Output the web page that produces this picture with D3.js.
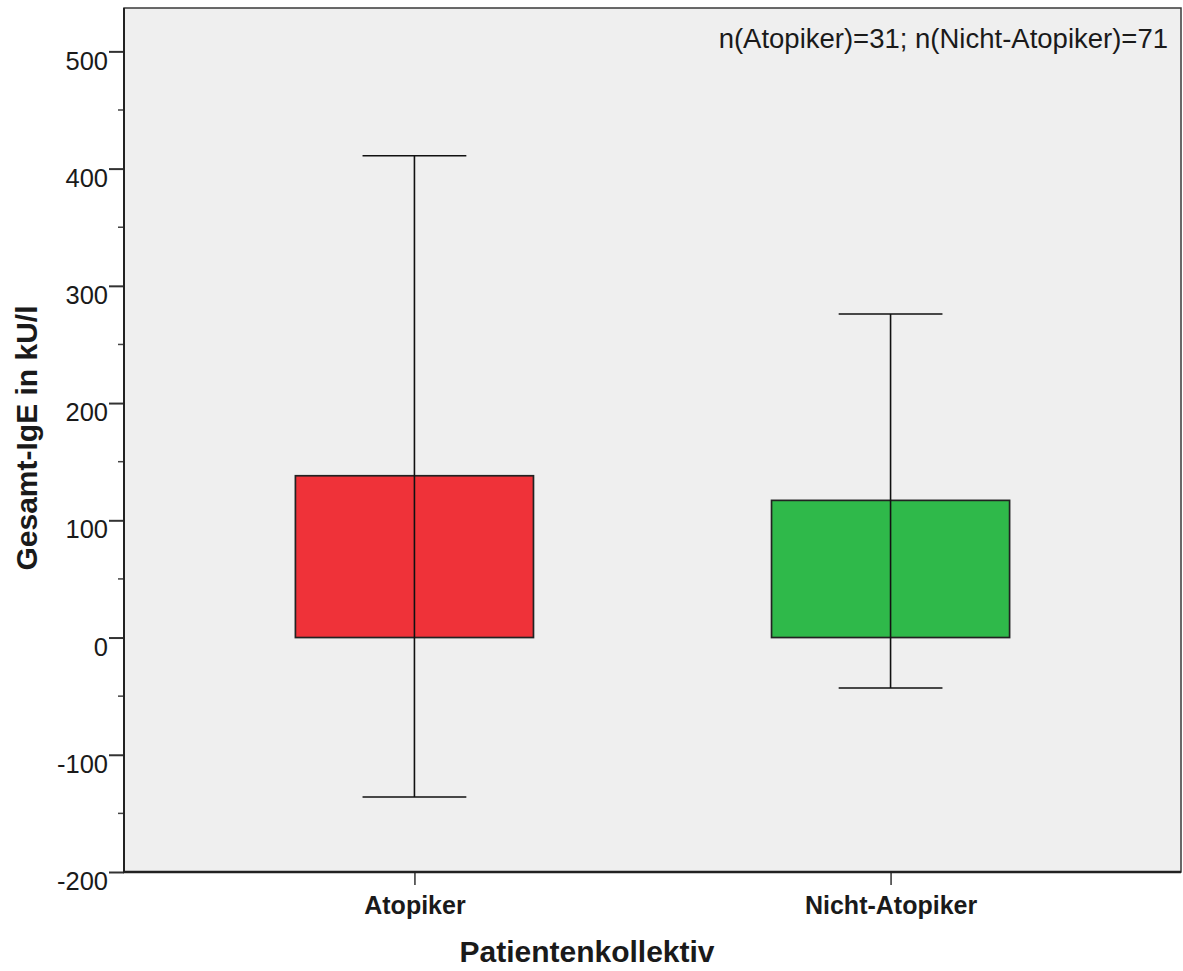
<!DOCTYPE html>
<html>
<head>
<meta charset="utf-8">
<script src="https://cdn.jsdelivr.net/npm/d3@7/dist/d3.min.js"></script>
<style>
  html, body { margin: 0; padding: 0; background: #ffffff; }
  svg { display: block; }
  text { font-family: "Liberation Sans", Arial, sans-serif; fill: #1a1a1a; }
</style>
</head>
<body>
<svg id="chart" width="1183" height="971"></svg>
<script>
// ---- data ----
const categories = ["Atopiker", "Nicht-Atopiker"];
const means = [138, 117];
const upperBounds = [411, 276];
const lowerBounds = [-136, -43];
const barColors = ["#ef3239", "#2fb94a"];
const majorTicks = [-200, -100, 0, 100, 200, 300, 400, 500];
const minorTicks = [-150, -50, 50, 150, 250, 350, 450];
const yMin = -200, yMax = 537;
const noteText = "n(Atopiker)=31; n(Nicht-Atopiker)=71";
const xTitle = "Patientenkollektiv";
const yTitle = "Gesamt-IgE in kU/l";

(function () {
const data = categories.map((c, i) => ({ cat: c, mean: means[i], hi: upperBounds[i], lo: lowerBounds[i], color: barColors[i] }));

// ---- layout ----
const pL = 124, pR = 1181, pT = 8, pB = 872;
const svg = d3.select("#chart");

const y = d3.scaleLinear().domain([yMin, yMax]).range([pB, pT]);
const x = d3.scalePoint().domain(categories).range([pL, pR]).padding(0.61);
const step = x.step();
const barW = step * 0.5;
const capW = step * 0.218;

// plot background
svg.append("rect")
  .attr("x", pL).attr("y", pT)
  .attr("width", pR - pL).attr("height", pB - pT)
  .attr("fill", "#efefef")
  .attr("stroke", "#3a3a3a").attr("stroke-width", 1.5);

// bars
svg.selectAll("rect.bar").data(data).enter().append("rect")
  .attr("class", "bar")
  .attr("x", d => x(d.cat) - barW / 2)
  .attr("y", d => y(d.mean))
  .attr("width", barW)
  .attr("height", d => y(0) - y(d.mean))
  .attr("fill", d => d.color)
  .attr("stroke", "#222").attr("stroke-width", 1.7);

// error bars
const eb = svg.selectAll("g.eb").data(data).enter().append("g").attr("class", "eb")
  .attr("stroke", "#111").attr("stroke-width", 1.6);
eb.append("line")
  .attr("x1", d => x(d.cat)).attr("x2", d => x(d.cat))
  .attr("y1", d => y(d.hi)).attr("y2", d => y(d.lo));
eb.append("line")
  .attr("x1", d => x(d.cat) - capW / 2).attr("x2", d => x(d.cat) + capW / 2)
  .attr("y1", d => y(d.hi)).attr("y2", d => y(d.hi));
eb.append("line")
  .attr("x1", d => x(d.cat) - capW / 2).attr("x2", d => x(d.cat) + capW / 2)
  .attr("y1", d => y(d.lo)).attr("y2", d => y(d.lo));

// y axis
const yAxis = d3.axisLeft(y).tickValues(majorTicks).tickSize(15).tickPadding(0).tickFormat(d => String(d));
const gy = svg.append("g").attr("transform", `translate(${pL},0)`).call(yAxis);
gy.select(".domain").remove();
gy.selectAll(".tick line").attr("stroke", "#333").attr("stroke-width", 2);
gy.selectAll(".tick text")
  .attr("x", -16).attr("dy", "0.85em").attr("y", -4)
  .attr("font-size", 25.5).attr("font-family", "Liberation Sans, Arial, sans-serif")
  .attr("fill", "#1a1a1a");
// minor ticks
svg.append("g").selectAll("line").data(minorTicks).enter().append("line")
  .attr("x1", pL - 6).attr("x2", pL)
  .attr("y1", d => y(d)).attr("y2", d => y(d))
  .attr("stroke", "#444").attr("stroke-width", 1.5);
// left axis line
svg.append("line").attr("x1", pL).attr("x2", pL).attr("y1", pT).attr("y2", pB)
  .attr("stroke", "#222").attr("stroke-width", 2);

// x axis
const xAxis = d3.axisBottom(x).tickSize(13).tickPadding(11);
const gx = svg.append("g").attr("transform", `translate(0,${pB})`).call(xAxis);
gx.select(".domain").remove();
gx.selectAll(".tick line").attr("stroke", "#333").attr("stroke-width", 1.5);
gx.selectAll(".tick text")
  .attr("font-size", 25).attr("font-weight", "bold")
  .attr("font-family", "Liberation Sans, Arial, sans-serif").attr("fill", "#111");
svg.append("line").attr("x1", pL - 1).attr("x2", pR).attr("y1", pB).attr("y2", pB)
  .attr("stroke", "#222").attr("stroke-width", 2.5);

// note
svg.append("text")
  .attr("x", 1168).attr("y", 48)
  .attr("text-anchor", "end")
  .attr("font-size", 27.5)
  .text(noteText);

// axis titles
svg.append("text")
  .attr("x", 587).attr("y", 962)
  .attr("text-anchor", "middle")
  .attr("font-size", 30).attr("font-weight", "bold").attr("fill", "#111")
  .text(xTitle);
svg.append("text")
  .attr("transform", `translate(37,${(pT + pB) / 2 - 2}) rotate(-90)`)
  .attr("text-anchor", "middle")
  .attr("font-size", 30).attr("font-weight", "bold").attr("fill", "#111")
  .text(yTitle);
})();
</script>
</body>
</html>
